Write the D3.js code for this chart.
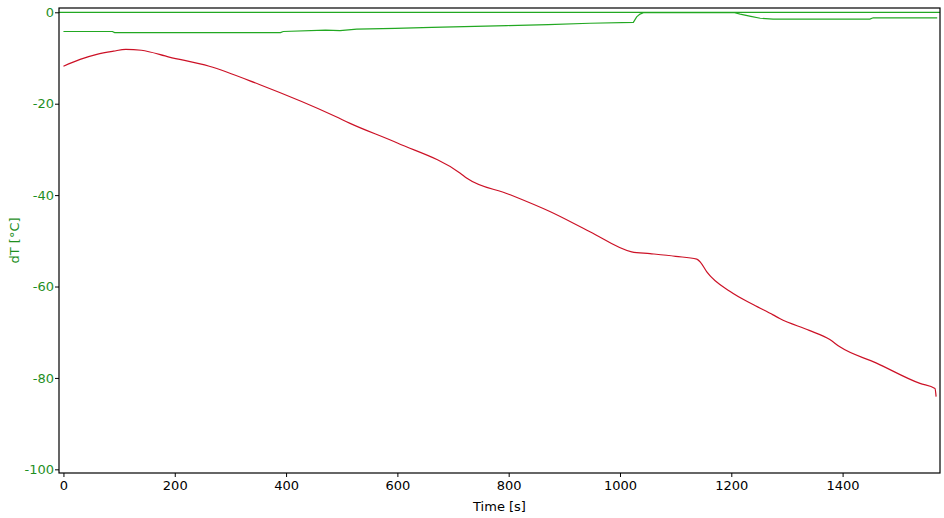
<!DOCTYPE html>
<html>
<head>
<meta charset="utf-8">
<script src="https://cdn.jsdelivr.net/npm/d3@7"></script>
<style>
  html, body { margin: 0; padding: 0; background: #fff; }
  svg { display: block; }
  svg text { font-family: "DejaVu Sans", sans-serif; }
</style>
</head>
<body>
<svg id="chart" width="944" height="518"></svg>
<script>
// ---- data ----
const redTime = [0, 30, 60, 90, 112, 140, 190, 262, 352, 489, 515, 600, 713, 725, 800, 874, 946, 1021, 1054, 1100, 1138, 1144, 1156, 1198, 1240, 1275, 1287, 1340, 1377, 1395, 1460, 1539, 1566, 1568];
const redValue = [-11.8, -10.3, -9.2, -8.5, -8.1, -8.3, -9.8, -11.8, -15.8, -22.8, -24.3, -28.6, -35.2, -36.3, -39.8, -43.6, -48.0, -52.4, -52.8, -53.4, -54.0, -54.6, -56.8, -61.1, -64.0, -66.2, -67.0, -69.6, -71.6, -73.2, -76.7, -81.2, -82.3, -84.1];

const greenTime = [0, 88, 92, 390, 395, 471, 497, 527, 596, 662, 797, 871, 946, 1024, 1030, 1036, 1042, 1206, 1216, 1235, 1252, 1275, 1449, 1455, 1570];
const greenValue = [-4.2, -4.2, -4.45, -4.45, -4.2, -3.9, -4.0, -3.7, -3.5, -3.3, -2.9, -2.7, -2.4, -2.2, -1.0, -0.4, -0.1, -0.1, -0.4, -0.9, -1.3, -1.5, -1.5, -1.2, -1.2];

const zeroLineValue = 0;

const xTicks = [0, 200, 400, 600, 800, 1000, 1200, 1400];
const yTicks = [0, -20, -40, -60, -80, -100];

const xDomain = [-8, 1575];
const yDomain = [-100.8, 0.94];

// ---- layout ----
const W = 944, H = 518;
const m = { left: 59, top: 8, right: 4, bottom: 45 };
const iw = W - m.left - m.right, ih = H - m.top - m.bottom;
const FONT = "DejaVu Sans";
const FS = 13;

const svg = d3.select("#chart");
const g = svg.append("g").attr("transform", `translate(${m.left},${m.top})`);

const x = d3.scaleLinear().domain(xDomain).range([0, iw]);
const y = d3.scaleLinear().domain(yDomain).range([ih, 0]);

const GREEN = "#22a822";
const RED = "#cc1126";
const LABEL_GREEN = "#1f8f1f";

svg.append("defs").append("clipPath").attr("id", "clip")
  .append("rect").attr("width", iw).attr("height", ih);

const plot = g.append("g").attr("clip-path", "url(#clip)");

plot.append("line")
  .attr("x1", 0).attr("x2", iw)
  .attr("y1", y(zeroLineValue)).attr("y2", y(zeroLineValue))
  .attr("stroke", GREEN).attr("stroke-width", 1.2);

const greenLine = d3.line().x(d => x(d[0])).y(d => y(d[1]));
const redLine = d3.line().x(d => x(d[0])).y(d => y(d[1])).curve(d3.curveMonotoneX);

plot.append("path")
  .datum(greenTime.map((t, i) => [t, greenValue[i]]))
  .attr("d", greenLine).attr("fill", "none")
  .attr("stroke", GREEN).attr("stroke-width", 1.2);

plot.append("path")
  .datum(redTime.map((t, i) => [t, redValue[i]]))
  .attr("d", redLine).attr("fill", "none")
  .attr("stroke", RED).attr("stroke-width", 1.2);

g.append("rect").attr("width", iw).attr("height", ih)
  .attr("fill", "none").attr("stroke", "#000").attr("stroke-width", 1.2);

const xa = g.append("g").attr("transform", `translate(0,${ih})`)
  .call(d3.axisBottom(x).tickValues(xTicks).tickSize(4).tickPadding(4).tickFormat(d => String(d)));
xa.attr("font-family", FONT).attr("font-size", FS);
xa.select(".domain").remove();
xa.selectAll("text").attr("fill", "#000");
xa.selectAll("line").attr("stroke", "#000");

const ya = g.append("g")
  .call(d3.axisLeft(y).tickValues(yTicks).tickSize(4).tickPadding(1).tickFormat(d => String(d)));
ya.attr("font-family", FONT).attr("font-size", FS);
ya.select(".domain").remove();
ya.selectAll("text").attr("fill", LABEL_GREEN);
ya.selectAll("line").attr("stroke", "#000");

svg.append("text")
  .attr("x", m.left + iw / 2).attr("y", 511)
  .attr("text-anchor", "middle").attr("fill", "#000")
  .attr("font-family", FONT).attr("font-size", FS).text("Time [s]");

svg.append("text")
  .attr("transform", `translate(19,${m.top + ih / 2}) rotate(-90)`)
  .attr("text-anchor", "middle").attr("fill", LABEL_GREEN)
  .attr("font-family", FONT).attr("font-size", FS).text("dT [°C]");
</script>
</body>
</html>
